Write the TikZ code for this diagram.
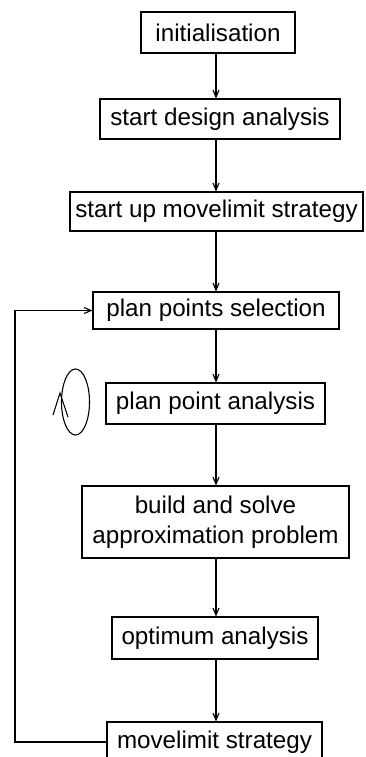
\documentclass[tikz,border=0pt]{standalone}
\usepackage{fontspec}
\setmainfont{Liberation Sans}
\usetikzlibrary{arrows.meta}
\begin{document}
\begin{tikzpicture}[x=1pt,y=-1pt,
  box/.style={draw, line width=1.1pt, inner sep=0pt, align=center,
    font=\fontsize{24.2}{30}\selectfont},
  arr/.style={line width=1.1pt, -{Straight Barb[length=7pt,width=6pt]}},
  ln/.style={line width=1.1pt}]
\useasboundingbox (0,0) rectangle (366,757);
\clip (0,0) rectangle (366,757);
\coordinate (col) at (216,0);
\node[box, minimum width=154pt, minimum height=41pt] (init) at (218,32.5) {initialisation};
\node[box, minimum width=240pt, minimum height=40pt] (design) at (220,119) {start design analysis};
\node[box, minimum width=293pt, minimum height=39pt] (startup) at (216.5,211.5) {start up movelimit strategy};
\node[box, minimum width=246pt, minimum height=37pt] (pps) at (216,310.5) {plan points selection};
\node[box, minimum width=219pt, minimum height=41pt] (ppa) at (215.5,403.5) {plan point analysis};
\node[box, minimum width=267pt, minimum height=72pt] (build) at (215.5,522) {build and solve\\approximation problem};
\node[box, minimum width=206pt, minimum height=42pt] (opt) at (215,638) {optimum analysis};
\node[box, minimum width=215pt, minimum height=40pt] (move) at (214.5,742) {movelimit strategy};
\draw[arr] (init.south -| col) -- (design.north -| col);
\draw[arr] (design.south -| col) -- (startup.north -| col);
\draw[arr] (startup.south -| col) -- (pps.north -| col);
\draw[arr] (pps.south -| col) -- (ppa.north -| col);
\draw[arr] (ppa.south -| col) -- (build.north -| col);
\draw[arr] (build.south -| col) -- (opt.north -| col);
\draw[arr] (opt.south -| col) -- (move.north -| col);
\coordinate (fb) at (15,0);
\draw[arr] (move.west) -- (move.west -| fb) -- (pps.west -| fb) -- (pps.west);
% loop symbol
\draw[ln] (75.5,402) ellipse [x radius=14, y radius=33];
\draw[ln] (53,415) -- (60,393) -- (68,417);
\end{tikzpicture}
\end{document}
